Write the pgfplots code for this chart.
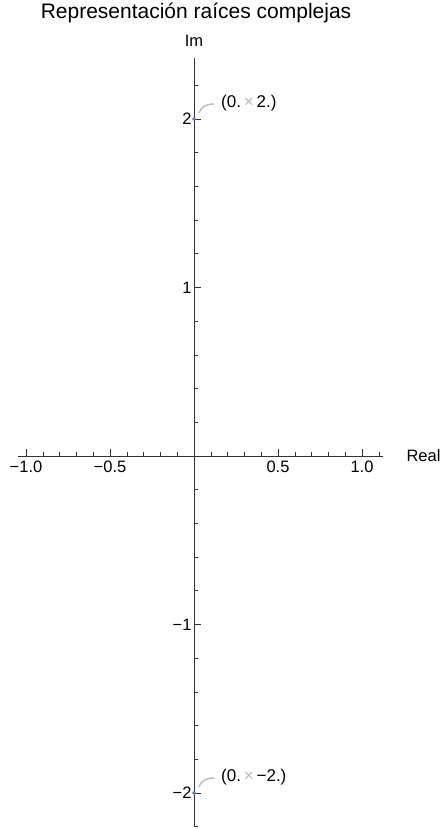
\documentclass[border=0pt]{standalone}
\usepackage{pgfplots}
\pgfplotsset{compat=1.18}
\usepackage{fontspec}
\setmainfont{Liberation Sans}
\definecolor{ptcol}{rgb}{0.368,0.507,0.71}
\definecolor{lblgray}{rgb}{0.72,0.72,0.72}
\begin{document}
\begin{tikzpicture}
\begin{axis}[
  x=168pt, y=168.5pt,
  xmin=-1.05, xmax=1.125, ymin=-2.2, ymax=2.36,
  axis lines=middle,
  axis line style={black!80, line width=0.6pt, -},
  xtick={-1,-0.5,0.5,1}, ytick={-2,-1,1,2},
  minor xtick={-1,-0.9,...,1.15},
  minor ytick={-2.2,-2.0,...,2.25},
  xticklabels={−1.0,−0.5,0.5,1.0},
  yticklabels={−2,−1,1,2},
  xtick align=inside, ytick align=inside,
  major tick length=7pt, minor tick length=4pt,
  tick style={black!80, line width=0.6pt},
  ticklabel style={font=\fontsize{16.5}{18}\selectfont},
  xticklabel style={yshift=-1pt},
  yticklabel style={xshift=1pt},
  xlabel={Real}, ylabel={Im},
  xlabel style={at={(axis cs:1.125,0)}, anchor=west, xshift=20pt, font=\fontsize{16.5}{18}\selectfont},
  ylabel style={at={(axis cs:0,2.36)}, anchor=south, yshift=8pt, font=\fontsize{16.5}{18}\selectfont},
  clip=false,
]
\addplot[only marks, mark=*, mark size=1.6pt, ptcol] coordinates {(0,2) (0,-2)};
\draw[lblgray, line width=1.4pt] ([shift={(5pt,6pt)}]axis cs:0,2) .. controls ([shift={(7pt,12pt)}]axis cs:0,2) and ([shift={(12pt,15pt)}]axis cs:0,2) .. ([shift={(20pt,15pt)}]axis cs:0,2);
\draw[lblgray, line width=1.4pt] ([shift={(5pt,6pt)}]axis cs:0,-2) .. controls ([shift={(7pt,12pt)}]axis cs:0,-2) and ([shift={(12pt,15pt)}]axis cs:0,-2) .. ([shift={(20pt,15pt)}]axis cs:0,-2);
\node[anchor=west, inner sep=0pt, font=\fontsize{17}{19}\selectfont] at ([shift={(27pt,16pt)}]axis cs:0,2) {(0.\,{\color{lblgray}×}\,2.)};
\node[anchor=west, inner sep=0pt, font=\fontsize{17}{19}\selectfont] at ([shift={(27pt,16pt)}]axis cs:0,-2) {(0.\,{\color{lblgray}×}\,−2.)};
\node[anchor=base, font=\fontsize{21}{24}\selectfont] at ([shift={(2pt,437pt)}]axis cs:0,0) {Representación raíces complejas};
\coordinate (O) at (axis cs:0,0);
\end{axis}
\pgfresetboundingbox
\path (O) ++(-194pt,456pt) rectangle ++(444pt,-829pt);
\end{tikzpicture}
\end{document}
